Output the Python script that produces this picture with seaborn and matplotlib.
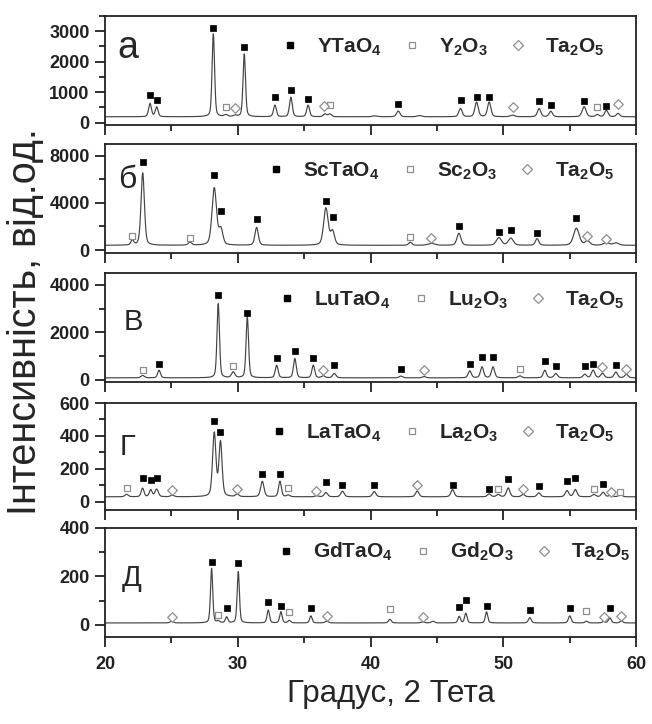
import numpy as np
import pandas as pd
import matplotlib
matplotlib.use("Agg")
import matplotlib.pyplot as plt
import seaborn as sns
from matplotlib.lines import Line2D
from matplotlib.ticker import MultipleLocator

# ---------------- data ----------------
# Panel а : YTaO4
a_pos = [23.39, 23.89, 28.16, 29.1, 29.8, 30.49, 32.8, 34.0, 35.3, 36.57, 36.94, 40.3, 42.09, 43.7,
         46.78, 47.99, 48.94, 50.7, 52.7, 53.58, 56.09, 57.09, 57.77, 58.65]
a_amp = [430, 320, 2720, 60, 40, 2060, 380, 640, 380, 90, 90, 30, 190, 40,
         270, 480, 480, 50, 270, 180, 330, 70, 210, 110]
a_fwhm = [0.25, 0.25, 0.22, 0.3, 0.3, 0.22, 0.25, 0.25, 0.25, 0.3, 0.3, 0.4, 0.3, 0.4,
          0.3, 0.3, 0.3, 0.4, 0.3, 0.3, 0.35, 0.3, 0.3, 0.3]
a_base = 190
a_filled_x = [23.39, 23.89, 28.16, 30.49, 32.8, 34.0, 35.3, 42.09, 46.78, 47.99, 48.94, 52.7, 53.58, 56.09, 57.77]
a_filled_y = [890, 757, 3090, 2477, 830, 1060, 790, 615, 757, 845, 845, 700, 570, 720, 560]
a_open_x = [29.1, 36.94, 57.09]
a_open_y = [516, 590, 500]
a_dia_x = [29.8, 36.5, 50.7, 58.65]
a_dia_y = [480, 540, 500, 615]

# Panel б : ScTaO4
b_pos = [22.06, 22.84, 26.4, 28.23, 28.73, 31.42, 36.64, 37.14, 43.0, 44.59, 46.66, 49.67, 50.57,
         52.55, 55.51, 56.34, 57.77, 58.5]
b_amp = [400, 6150, 250, 4850, 1300, 1520, 3150, 1150, 260, 160, 1020, 650, 600,
         560, 1450, 380, 230, 200]
b_fwhm = [0.25, 0.3, 0.3, 0.4, 0.35, 0.3, 0.4, 0.35, 0.3, 0.6, 0.35, 0.45, 0.45,
          0.3, 0.5, 0.4, 0.5, 0.5]
b_base = 400
b_filled_x = [22.84, 28.23, 28.73, 31.42, 36.64, 37.14, 46.66, 49.67, 50.57, 52.55, 55.51]
b_filled_y = [7490, 6360, 3300, 2650, 4180, 2830, 2035, 1550, 1700, 1410, 2680]
b_open_x = [22.06, 26.4, 43.0]
b_open_y = [1210, 1040, 1080]
b_dia_x = [44.59, 56.34, 57.77]
b_dia_y = [1040, 1190, 930]

# Panel в : LuTaO4
c_pos = [22.83, 24.07, 28.53, 29.66, 30.72, 32.93, 34.3, 35.69, 36.44, 37.27, 42.29, 44.04, 47.48,
         48.4, 49.23, 51.25, 53.13, 53.96, 56.14, 56.77, 57.47, 58.48, 59.28]
c_amp = [100, 320, 3120, 240, 2560, 530, 810, 530, 80, 180, 75, 55, 290,
         460, 460, 85, 320, 180, 150, 320, 190, 245, 150]
c_fwhm = [0.3, 0.25, 0.22, 0.3, 0.22, 0.25, 0.25, 0.25, 0.3, 0.3, 0.3, 0.3, 0.28,
          0.28, 0.28, 0.3, 0.28, 0.3, 0.3, 0.3, 0.3, 0.3, 0.3]
c_base = 85
c_filled_x = [24.07, 28.53, 30.72, 32.93, 34.3, 35.69, 37.27, 42.29, 47.48, 48.4, 49.23, 53.13, 53.96,
              56.14, 56.77, 58.48]
c_filled_y = [665, 3580, 2830, 920, 1200, 920, 635, 450, 665, 960, 960, 805, 565, 565, 665, 607]
c_open_x = [22.83, 29.66, 51.25]
c_open_y = [395, 565, 466]
c_dia_x = [36.44, 44.04, 57.47, 59.28]
c_dia_y = [424, 424, 523, 466]

# Panel г : LaTaO4
d_pos = [21.63, 22.83, 23.44, 23.89, 25.07, 28.23, 28.7, 29.96, 31.85, 33.18, 33.8, 35.93, 36.64,
         37.89, 40.28, 43.52, 46.18, 48.94, 49.62, 50.37, 51.5, 52.68, 54.8, 55.43, 56.83, 57.52,
         58.1, 58.83]
d_amp = [15, 52, 42, 46, 10, 385, 330, 15, 94, 94, 10, 6, 26,
         34, 32, 35, 44, 18, 14, 54, 14, 24, 38, 44, 14, 28, 10, 14]
d_fwhm = [0.3, 0.25, 0.25, 0.3, 0.3, 0.3, 0.28, 0.3, 0.3, 0.25, 0.3, 0.3, 0.3,
          0.3, 0.3, 0.3, 0.3, 0.3, 0.3, 0.3, 0.3, 0.3, 0.3, 0.3, 0.3, 0.3, 0.3, 0.3]
d_base = 30
d_filled_x = [22.83, 23.44, 23.89, 28.23, 28.7, 31.85, 33.18, 36.64, 37.89, 40.28, 46.18, 48.94,
              50.37, 52.68, 54.8, 55.43, 57.52]
d_filled_y = [142, 132, 142, 490, 422, 166, 170, 120, 100, 100, 102, 80, 136, 96, 126, 146, 106]
d_open_x = [21.63, 33.8, 49.62, 56.83, 58.83]
d_open_y = [86, 82, 80, 80, 62]
d_dia_x = [25.07, 29.96, 35.93, 43.52, 51.5, 58.1]
d_dia_y = [70, 80, 66, 100, 80, 62]

# Panel д : GdTaO4
e_pos = [25.02, 28.03, 28.53, 29.16, 30.04, 32.3, 33.25, 33.88, 35.51, 36.69, 41.46, 43.92, 44.7,
         46.68, 47.18, 48.74, 52.0, 55.01, 56.27, 57.57, 58.03, 58.9]
e_amp = [7, 225, 7, 24, 212, 53, 46, 10, 29, 7, 15, 4, 7,
         27, 40, 46, 22, 29, 7, 6, 21, 8]
e_fwhm = [0.3, 0.2, 0.25, 0.22, 0.2, 0.22, 0.22, 0.25, 0.22, 0.3, 0.25, 0.3, 0.3,
          0.22, 0.22, 0.22, 0.25, 0.25, 0.25, 0.25, 0.25, 0.25]
e_base = 8
e_filled_x = [28.03, 29.16, 30.04, 32.3, 33.25, 35.51, 46.68, 47.18, 48.74, 52.0, 55.01, 58.03]
e_filled_y = [260, 69, 255, 94, 80, 69, 73, 103, 76, 63, 69, 69]
e_open_x = [28.53, 33.88, 41.46, 56.27]
e_open_y = [41, 55, 65, 58]
e_dia_x = [25.02, 36.69, 43.92, 57.57, 58.9]
e_dia_y = [32, 37, 32, 34, 37]

panel_letters = ["а", "б", "В", "Г", "Д"]
main_phase = ["YTaO_4", "ScTaO_4", "LuTaO_4", "LaTaO_4", "GdTaO_4"]
oxide_phase = ["Y_2O_3", "Sc_2O_3", "Lu_2O_3", "La_2O_3", "Gd_2O_3"]
ta_phase = "Ta_2O_5"
y_limits = [(-80, 3500), (-250, 9000), (-90, 4500), (-50, 600), (-50, 400)]
y_major = [1000, 4000, 2000, 200, 200]
y_minor = [500, 2000, 1000, 100, 100]
x_ticks = [20, 30, 40, 50, 60]

# ---------------- style ----------------
sns.set_theme(style="ticks")
plt.rcParams.update({
    "font.family": ["Liberation Sans", "DejaVu Sans"],
    "mathtext.fontset": "custom",
    "mathtext.rm": "Liberation Sans",
    "mathtext.bf": "Liberation Sans:bold",
    "mathtext.it": "Liberation Sans:italic",
    "axes.linewidth": 1.3,
    "axes.edgecolor": "#222222",
    "xtick.color": "#222222",
    "ytick.color": "#222222",
})

W, H = 652, 724
fig = plt.figure(figsize=(W / 100, H / 100), dpi=100)
X0, X1 = 105, 636
panel_px = [(16, 125), (144, 253), (273, 382), (403, 510), (528, 637)]
legend_px = [(290, 47), (276, 171), (287, 300), (279, 433), (286, 552)]
letter_px = [(128, 48), (127, 180), (133, 322), (127, 447), (132, 578)]
letter_size = [27, 23, 21, 21, 21]

panels = [
    (a_pos, a_amp, a_fwhm, a_base, a_filled_x, a_filled_y, a_open_x, a_open_y, a_dia_x, a_dia_y),
    (b_pos, b_amp, b_fwhm, b_base, b_filled_x, b_filled_y, b_open_x, b_open_y, b_dia_x, b_dia_y),
    (c_pos, c_amp, c_fwhm, c_base, c_filled_x, c_filled_y, c_open_x, c_open_y, c_dia_x, c_dia_y),
    (d_pos, d_amp, d_fwhm, d_base, d_filled_x, d_filled_y, d_open_x, d_open_y, d_dia_x, d_dia_y),
    (e_pos, e_amp, e_fwhm, e_base, e_filled_x, e_filled_y, e_open_x, e_open_y, e_dia_x, e_dia_y),
]

grid = np.linspace(20, 60, 4001)


def pattern(pos, amp, fwhm, base):
    y = np.full_like(grid, float(base))
    for p, a, w in zip(pos, amp, fwhm):
        d = (grid - p) / (w / 2.0)
        y += a * (0.35 / (1 + d ** 2) + 0.65 * np.exp(-np.log(2) * d ** 2))
    return y


GREY = "#8f8f8f"
em_px = 15 * 100 / 72

for i, (pos, amp, fwhm, base, fx, fy, ox, oy, dx, dy) in enumerate(panels):
    top, bot = panel_px[i]
    ax = fig.add_axes([X0 / W, 1 - bot / H, (X1 - X0) / W, (bot - top) / H])
    df = pd.DataFrame({"x": grid, "y": pattern(pos, amp, fwhm, base)})
    sns.lineplot(data=df, x="x", y="y", ax=ax, color="#444444", lw=0.85, estimator=None, sort=False)
    sns.scatterplot(x=ox, y=oy, ax=ax, marker="s", s=18, color="white", edgecolor=GREY, linewidth=0.9, zorder=5)
    sns.scatterplot(x=dx, y=dy, ax=ax, marker="D", s=24, color="white", edgecolor=GREY, linewidth=0.9, zorder=5)
    sns.scatterplot(x=fx, y=fy, ax=ax, marker="s", s=17, color="black", edgecolor="black", linewidth=0.5, zorder=6)

    ax.set_xlim(20, 60)
    ax.set_xticks(x_ticks)
    ax.xaxis.set_minor_locator(MultipleLocator(5))
    ax.yaxis.set_major_locator(MultipleLocator(y_major[i]))
    ax.yaxis.set_minor_locator(MultipleLocator(y_minor[i]))
    ax.set_ylim(*y_limits[i])
    ax.tick_params(axis="both", which="major", direction="out", length=7, width=1.3, labelsize=13, pad=4)
    ax.tick_params(axis="both", which="minor", direction="out", length=4.5, width=1.3)
    ax.tick_params(axis="x", which="major", pad=7)
    for lab in ax.get_yticklabels():
        lab.set_fontweight("bold")
    if i < 4:
        ax.tick_params(axis="x", labelbottom=False)
    else:
        for lab in ax.get_xticklabels():
            lab.set_fontweight("bold")
    ax.set_xlabel("")
    ax.set_ylabel("")
    for s in ax.spines.values():
        s.set_visible(True)
        s.set_linewidth(1.3)

    handles = [
        Line2D([], [], ls="none", marker="s", ms=4.2, mfc="black", mec="black"),
        Line2D([], [], ls="none", marker="s", ms=4.2, mfc="white", mec=GREY, mew=0.9),
        Line2D([], [], ls="none", marker="D", ms=4.8, mfc="white", mec=GREY, mew=0.9),
    ]
    labels = [r"$\mathbf{%s}$" % main_phase[i], r"$\mathbf{%s}$" % oxide_phase[i], r"$\mathbf{%s}$" % ta_phase]
    mx, my = legend_px[i]
    ax.legend(handles, labels, ncol=3, frameon=False, loc="center left",
              bbox_to_anchor=((mx - 0.4 * em_px - X0) / (X1 - X0), (bot - my) / (bot - top)),
              borderpad=0, borderaxespad=0, handlelength=0.8, handletextpad=0.9,
              columnspacing=1.05, fontsize=15)

    lx, ly = letter_px[i]
    fig.text(lx / W, 1 - ly / H, panel_letters[i], fontsize=letter_size[i], ha="center", va="center")

fig.text(25 / W, 1 - 322 / H, "Інтенсивність, від.од.", rotation=90, fontsize=28.5, ha="center", va="center")
fig.text(391 / W, 1 - 702 / H, "Градус, 2 Тета", fontsize=22.5, ha="center", va="baseline")

fig.savefig("out.png", dpi=100)
